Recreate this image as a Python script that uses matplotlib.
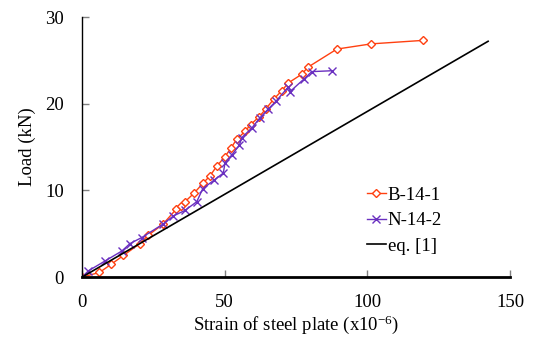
import numpy as np
import matplotlib.pyplot as plt

plt.rcParams["font.family"] = ["Liberation Serif", "DejaVu Serif"]

# B-14-1 test data
b_strain = [0, 6.1, 10.3, 14.5, 20.3, 23.2, 28.3, 32.9, 34.5, 36.1, 39.3, 42.3, 44.9,
            47.2, 50.1, 52.2, 54.2, 57.1, 59.1, 62.1, 64.4, 67.1, 70.0, 72.3, 77.0,
            79.1, 89.3, 101.3, 119.4]
b_load = [0, 0.54, 1.5, 2.5, 3.87, 4.83, 6.09, 7.8, 8.2, 8.7, 9.7, 10.8, 11.7,
          12.8, 13.9, 14.9, 15.9, 16.8, 17.6, 18.5, 19.4, 20.5, 21.5, 22.4, 23.4,
          24.2, 26.3, 26.9, 27.3]

# N-14-2 test data
n_strain = [0, 2.2, 8.1, 13.9, 16.8, 20.9, 28.3, 32.0, 36.1, 40.2, 42.3, 46.3,
            49.5, 50.1, 52.5, 55.1, 56.0, 59.5, 62.4, 65.3, 68.0, 72.2, 72.9,
            77.6, 80.5, 87.5]
n_load = [0, 0.72, 1.87, 3.0, 3.87, 4.56, 6.1, 7.05, 7.7, 8.7, 10.2, 11.2,
          12.0, 13.2, 14.1, 15.2, 16.1, 17.2, 18.4, 19.4, 20.3, 21.9, 21.4,
          22.8, 23.7, 23.8]

# eq. [1]
eq_strain = [0, 142.3]
eq_load = [0, 27.2]

fig = plt.figure(figsize=(5.33, 3.4), dpi=100)
ax = fig.add_axes([0.154, 0.185, 0.803, 0.765])

ax.plot(b_strain, b_load, color="#FF4010", lw=1, marker="D", ms=4.5,
        mfc="white", mec="#FF4010", mew=1, label="B-14-1")
ax.plot(n_strain, n_load, color="#6A30C0", lw=1, marker="x", ms=6,
        mew=1, label="N-14-2")
ax.plot(eq_strain, eq_load, color="black", lw=1.2, label="eq. [1]")

ax.set_xlim(0, 150)
ax.set_ylim(0, 30)
ax.set_xticks([0, 50, 100, 150])
ax.set_yticks([0, 10, 20, 30])
ax.tick_params(direction="in", length=5, width=1, color="grey", labelsize=13.5)
ax.tick_params(axis="x", pad=12)
ax.tick_params(axis="y", pad=13)
ax.spines["top"].set_visible(False)
ax.spines["right"].set_visible(False)
ax.spines["bottom"].set_linewidth(2)
ax.spines["left"].set_linewidth(1)
ax.set_xlabel("Strain of steel plate (x10$\\mathregular{^{-6}}$)", fontsize=13.5, labelpad=2)
ax.set_ylabel("Load (kN)", fontsize=13.5, labelpad=7)

ax.legend(loc="lower right", bbox_to_anchor=(0.88, 0.02), frameon=False,
          fontsize=13.5, handlelength=1.0, handletextpad=0.1, labelspacing=0.45)

fig.savefig("out.png", dpi=100)
